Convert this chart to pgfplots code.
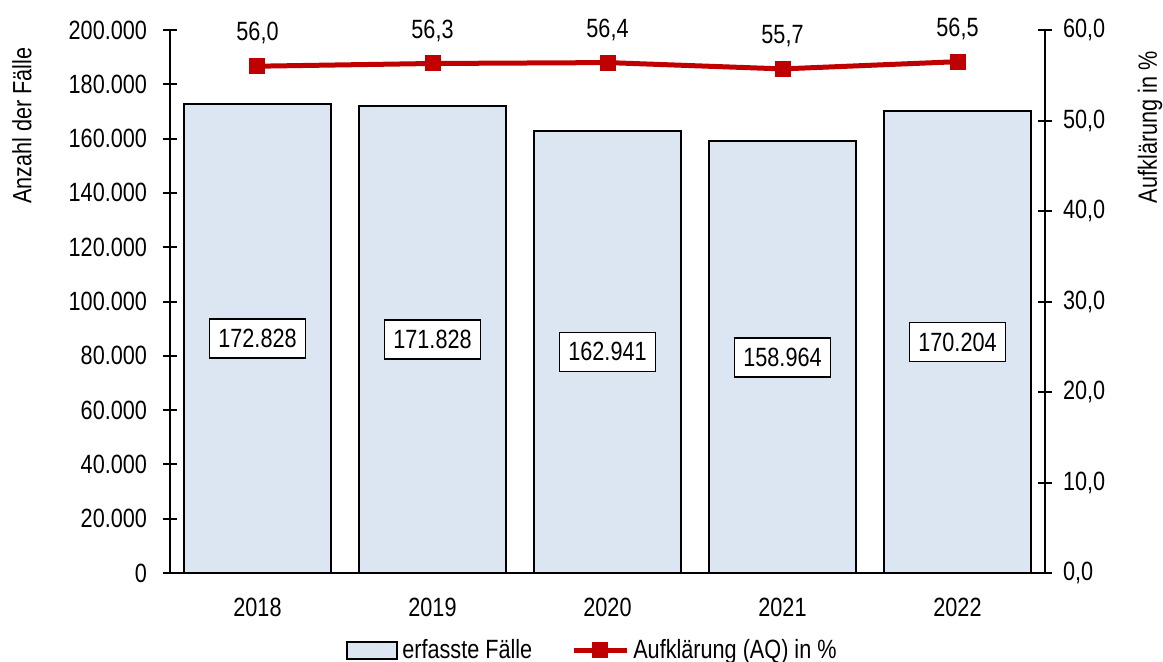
\documentclass[border=0pt]{standalone}
\usepackage{pgfplots}
\pgfplotsset{compat=1.18}
\usepackage{fontspec}
\setmainfont{Liberation Sans}[FakeStretch=0.82]
\definecolor{barblue}{HTML}{DCE6F2}
\definecolor{aqred}{HTML}{C00000}

\pgfplotsset{
  common/.style={
    width=437.5pt, height=271.5pt, scale only axis,
    at={(0,0)}, anchor=south west,
    xmin=-0.5, xmax=4.5,
    axis line style={-, line width=1pt, black},
    tick style={line width=1pt, black},
    tick align=center, major tick length=7pt,
    /pgf/number format/assume math mode=true,
    tick label style={font=\fontsize{13.2}{15}\selectfont},
  },
  barleg/.style={legend image code/.code={\draw[##1] (0pt,-4.25pt) rectangle (25pt,4.25pt);}},
  lineleg/.style={legend image code/.code={\draw[##1, mark repeat=2, mark phase=2]
      plot coordinates {(0pt,0pt) (13.25pt,0pt) (26.5pt,0pt)};}},
}

\begin{document}
\begin{tikzpicture}[font=\fontsize{13.2}{15}\selectfont]
\path[use as bounding box] (-85pt,-44pt) rectangle (496.5pt,286.5pt);

\begin{axis}[common, name=ax1,
    ymin=0, ymax=200000, ytick distance=20000,
    scaled y ticks=false,
    axis y line*=left, axis x line*=bottom,
    xtick={0,1,2,3,4}, xticklabels={2018,2019,2020,2021,2022},
    x tick style={draw=none},
    xticklabel style={yshift=-5.5pt},
    yticklabel style={xshift=-4.5pt, /pgf/number format/.cd, fixed, 1000 sep={.}},
  ]
  \addplot[ybar, bar width=73.5pt, fill=barblue, draw=black, line width=1pt]
    table[x=x, y=y] {
      x y
      0 172828
      1 171828
      2 162941
      3 158964
      4 170204
    };
  \addplot[draw=none, mark=none, point meta=explicit,
    nodes near coords,
    nodes near coords style={anchor=center, draw=black, fill=white,
      line width=0.8pt, inner xsep=4.5pt, inner ysep=0pt,
      minimum height=19.5pt,
      /pgf/number format/.cd, fixed, precision=0, 1000 sep={.}}]
    table[x=x, y expr=\thisrow{y}/2, meta=y] {
      x y
      0 172828
      1 171828
      2 162941
      3 158964
      4 170204
    };
\end{axis}

\begin{axis}[common, name=ax2,
    ymin=0, ymax=60, ytick distance=10,
    axis y line*=right, axis x line=none,
    yticklabel style={xshift=2pt, /pgf/number format/.cd, fixed, fixed zerofill, precision=1, use comma},
    legend style={at={(axis description cs:0.484,-0.142)}, anchor=center,
      draw=none, fill=none, legend columns=2,
      /tikz/every even column/.append style={column sep=17.5pt},
      nodes={inner xsep=2pt, font=\fontsize{13.2}{15}\selectfont}},
    legend cell align=left,
  ]
  \addlegendimage{fill=barblue, draw=black, line width=1pt, barleg}
  \addlegendentry{erfasste Fälle}
  \addplot[aqred, line width=2.5pt, mark=square*, mark size=3.75pt,
    mark options={line width=0pt},
    nodes near coords, point meta=explicit,
    nodes near coords style={anchor=center, yshift=16.5pt, black,
      /pgf/number format/.cd, fixed, fixed zerofill, precision=1, use comma},
    lineleg]
    table[x=x, y=y, meta=y] {
      x y
      0 56.0
      1 56.3
      2 56.4
      3 55.7
      4 56.5
    };
  \addlegendentry{Aufklärung (AQ) in \%}
\end{axis}
\node[rotate=90, anchor=east, inner sep=0pt] at ([xshift=-74pt, yshift=-8.5pt]ax1.north west) {Anzahl der Fälle};
\node[rotate=90, anchor=east, inner sep=0pt] at ([xshift=52.5pt, yshift=-10.5pt]ax2.north east) {Aufklärung in \%};
\end{tikzpicture}
\end{document}
